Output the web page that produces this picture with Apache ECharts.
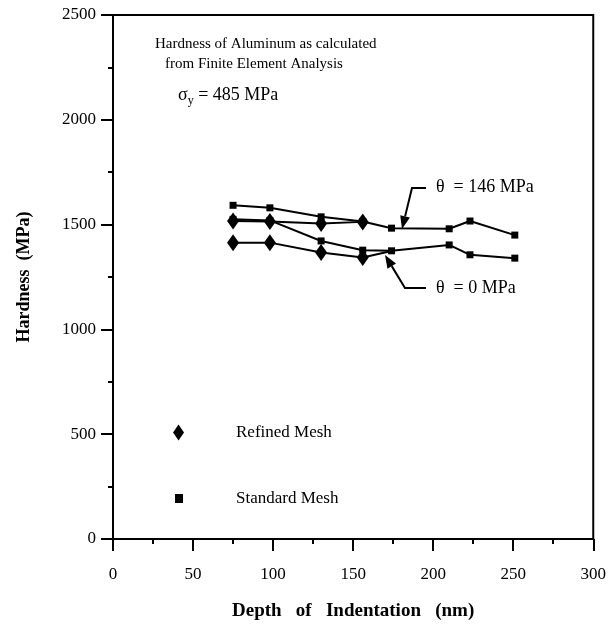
<!DOCTYPE html>
<html>
<head>
<meta charset="utf-8">
<script src="https://cdn.jsdelivr.net/npm/echarts@6/dist/echarts.min.js"></script>
<style>
  html, body { margin: 0; padding: 0; background: #fff; }
  #chart { width: 609px; height: 628px; }
</style>
</head>
<body>
<div id="chart"></div>
<script>
// depth (nm) / hardness (MPa)
const depthStd = [75, 98, 130, 156, 174, 210, 223, 251];
const std146 = [1592, 1580, 1537, 1515, 1483, 1480, 1517, 1450];
const std0 = [1525, 1520, 1422, 1378, 1375, 1403, 1356, 1340];

const depthRef = [75, 98, 130, 156];
const ref146 = [1517, 1515, 1505, 1513];
const ref0 = [1414, 1414, 1367, 1343];
// refined θ=0 line runs on into the standard point at 174 nm
const ref0Tail = [174, 1374];

const serif = '"Liberation Serif", "Times New Roman", serif';

const pairs = (xs, ys) => xs.map((x, i) => [x, ys[i]]);

// arrow: shaft polyline + filled head at the last point
const arrow = (pts) => {
    const n = pts.length;
    const [tx, ty] = pts[n - 1];
    const [px, py] = pts[n - 2];
    const len = Math.hypot(tx - px, ty - py);
    const ux = (tx - px) / len, uy = (ty - py) / len;
    const hl = 13, hw = 5;
    const bx = tx - ux * hl, by = ty - uy * hl;
    const shaft = pts.slice(0, n - 1).concat([[bx, by]]);
    return [
        { type: 'polyline', shape: { points: shaft }, style: { stroke: '#000', lineWidth: 2, fill: null } },
        {
            type: 'polygon',
            shape: { points: [[tx, ty], [bx - uy * hw, by + ux * hw], [bx + uy * hw, by - ux * hw]] },
            style: { fill: '#000' }
        }
    ];
};

const lineSeries = (name, data, symbol, size) => ({
    name,
    type: 'line',
    data,
    symbol,
    symbolSize: size,
    lineStyle: { color: '#000', width: 2 },
    itemStyle: { color: '#000' },
    z: symbol === 'diamond' ? 3 : 2
});

const chart = echarts.init(document.getElementById('chart'));

const option = {
    backgroundColor: '#fff',
    animation: false,
    textStyle: { fontFamily: serif, color: '#000' },
    grid: {
        left: 113, right: 14, top: 15, bottom: 89,
        show: true, borderColor: '#000', borderWidth: 2
    },
    xAxis: {
        type: 'value',
        min: 0, max: 300, interval: 50,
        name: 'Depth   of   Indentation   (nm)',
        nameLocation: 'middle',
        nameGap: 63,
        nameTextStyle: { fontFamily: serif, fontSize: 19, fontWeight: 'bold', color: '#000' },
        axisLine: { show: true, lineStyle: { color: '#000', width: 2 } },
        axisTick: { show: true, length: 12, lineStyle: { color: '#000', width: 2 } },
        minorTick: { show: true, splitNumber: 2, length: 5, lineStyle: { color: '#000', width: 2 } },
        splitLine: { show: false },
        axisLabel: { fontFamily: serif, fontSize: 17, color: '#000', margin: 27 }
    },
    yAxis: {
        type: 'value',
        min: 0, max: 2500, interval: 500,
        name: 'Hardness  (MPa)',
        nameLocation: 'middle',
        nameGap: 80,
        nameTextStyle: { fontFamily: serif, fontSize: 18, fontWeight: 'bold', color: '#000' },
        axisLine: { show: true, lineStyle: { color: '#000', width: 2 } },
        axisTick: { show: true, length: 12, lineStyle: { color: '#000', width: 2 } },
        minorTick: { show: true, splitNumber: 2, length: 5, lineStyle: { color: '#000', width: 2 } },
        splitLine: { show: false },
        axisLabel: { fontFamily: serif, fontSize: 17, color: '#000', margin: 17, formatter: v => String(v) }
    },
    legend: [
        {
            left: 168, top: 419,
            itemWidth: 11, itemHeight: 16,
            data: [{ name: 'Refined Mesh', icon: 'diamond' }],
            textStyle: { fontFamily: serif, fontSize: 17, color: '#000', padding: [0, 0, 0, 47] }
        },
        {
            left: 170, top: 485,
            itemWidth: 8, itemHeight: 9,
            data: [{ name: 'Standard Mesh', icon: 'rect' }],
            textStyle: { fontFamily: serif, fontSize: 17, color: '#000', padding: [0, 0, 0, 48] }
        }
    ],
    series: [
        lineSeries('Standard Mesh', pairs(depthStd, std146), 'rect', 7),
        lineSeries('Standard Mesh', pairs(depthStd, std0), 'rect', 7),
        lineSeries('Refined Mesh', pairs(depthRef, ref146), 'diamond', [12, 17]),
        lineSeries('Refined Mesh',
            pairs(depthRef, ref0).concat([{ value: ref0Tail, symbol: 'none' }]),
            'diamond', [12, 17])
    ],
    graphic: [
        {
            type: 'text', left: 155, top: 37,
            style: { text: 'Hardness of Aluminum as calculated', font: '15px ' + serif, fill: '#000' }
        },
        {
            type: 'text', left: 165, top: 57,
            style: { text: 'from Finite Element Analysis', font: '15px ' + serif, fill: '#000' }
        },
        {
            type: 'text', left: 178, top: 86,
            style: {
                text: '{a|σ}{s|y}{a| = 485 MPa}',
                rich: {
                    a: { fontFamily: serif, fontSize: 18, fill: '#000' },
                    s: { fontFamily: serif, fontSize: 12, fill: '#000', padding: [11, 0, 0, 0] }
                }
            }
        },
        {
            type: 'text', left: 436, top: 178,
            style: { text: 'θ  = 146 MPa', font: '18px ' + serif, fill: '#000' }
        },
        {
            type: 'text', left: 436, top: 279,
            style: { text: 'θ  = 0 MPa', font: '18px ' + serif, fill: '#000' }
        }
    ]
        .concat(arrow([[426, 188], [412, 188], [402, 229]]))
        .concat(arrow([[426, 288], [405, 288], [385, 255]]))
};

chart.setOption(option);
</script>
</body>
</html>
